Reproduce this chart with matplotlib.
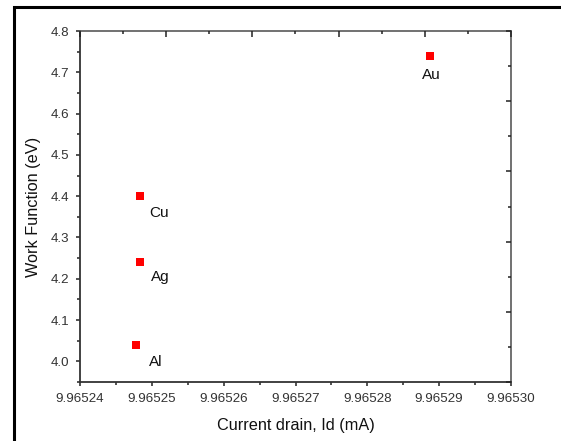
import matplotlib.pyplot as plt
import numpy as np
from matplotlib.ticker import MultipleLocator, FormatStrFormatter
from matplotlib.patches import Rectangle

plt.rcParams['font.family'] = ['Liberation Sans', 'DejaVu Sans']

# data
metals = ["Au", "Cu", "Ag", "Al"]
current_drain = [9.9652887, 9.9652483, 9.9652483, 9.9652478]  # mA
work_function = [4.74, 4.40, 4.24, 4.04]  # eV
label_offsets = [(-8, -19), (10, -17), (11, -15), (13, -17)]  # pixels

fig = plt.figure(figsize=(5.61, 4.41), dpi=100)
ax = fig.add_axes([80 / 561, 1 - 382 / 441, 431 / 561, 351 / 441])

ax.plot(current_drain, work_function, 's', color='#ff0000', markersize=5.2,
        markeredgewidth=0, zorder=3)
for name, x, y, off in zip(metals, current_drain, work_function, label_offsets):
    ax.annotate(name, (x, y), xytext=off, textcoords='offset pixels',
                fontsize=11, color='#111111', ha='left', va='center')

ax.set_xlim(9.96524, 9.96530)
ax.set_ylim(3.95, 4.8)
ax.xaxis.set_major_locator(MultipleLocator(1e-5))
ax.xaxis.set_minor_locator(MultipleLocator(5e-6))
ax.xaxis.set_major_formatter(FormatStrFormatter('%.5f'))
ax.yaxis.set_major_locator(MultipleLocator(0.1))
ax.yaxis.set_minor_locator(MultipleLocator(0.05))
ax.yaxis.set_major_formatter(FormatStrFormatter('%.1f'))

ax.tick_params(which='major', direction='out', length=3, width=1.1,
               labelsize=9.6, labelcolor='#333333', pad=5, color='#222222')
ax.tick_params(which='minor', direction='out', length=2.2, width=1.1, color='#222222')

for s in ['left', 'bottom']:
    ax.spines[s].set_linewidth(1.3)
    ax.spines[s].set_color('#333333')
for s in ['top', 'right']:
    ax.spines[s].set_linewidth(1.3)
    ax.spines[s].set_color('#666666')

ax.set_xlabel('Current drain, Id (mA)', fontsize=11.7, color='#111111', labelpad=9)
ax.set_ylabel('Work Function (eV)', fontsize=11.7, color='#111111', labelpad=7)

# top and right axes carry their own inward ticks, no labels
top = ax.twiny()
top.set_xlim(0, 5)
top.xaxis.set_major_locator(MultipleLocator(1))
top.xaxis.set_minor_locator(MultipleLocator(0.5))
top.tick_params(which='major', direction='in', length=4.5, width=1.1,
                labeltop=False, color='#222222')
top.tick_params(which='minor', direction='in', length=2.5, width=1.1, color='#222222')

right = ax.twinx()
right.set_ylim(0, 5)
right.yaxis.set_major_locator(MultipleLocator(1))
right.yaxis.set_minor_locator(MultipleLocator(0.5))
right.tick_params(which='major', direction='in', length=3.6, width=1.1,
                  labelright=False, color='#222222')
right.tick_params(which='minor', direction='in', length=2.2, width=1.1, color='#222222')
for a in (top, right):
    for sp in a.spines.values():
        sp.set_visible(False)

# outer frame (cropped at right and bottom)
fig.add_artist(Rectangle((14 / 561, -0.05), 1.1, 1 - 7 / 441 + 0.05,
                         transform=fig.transFigure, fill=False,
                         edgecolor='black', linewidth=2.2))

fig.savefig('out.png', dpi=100)
